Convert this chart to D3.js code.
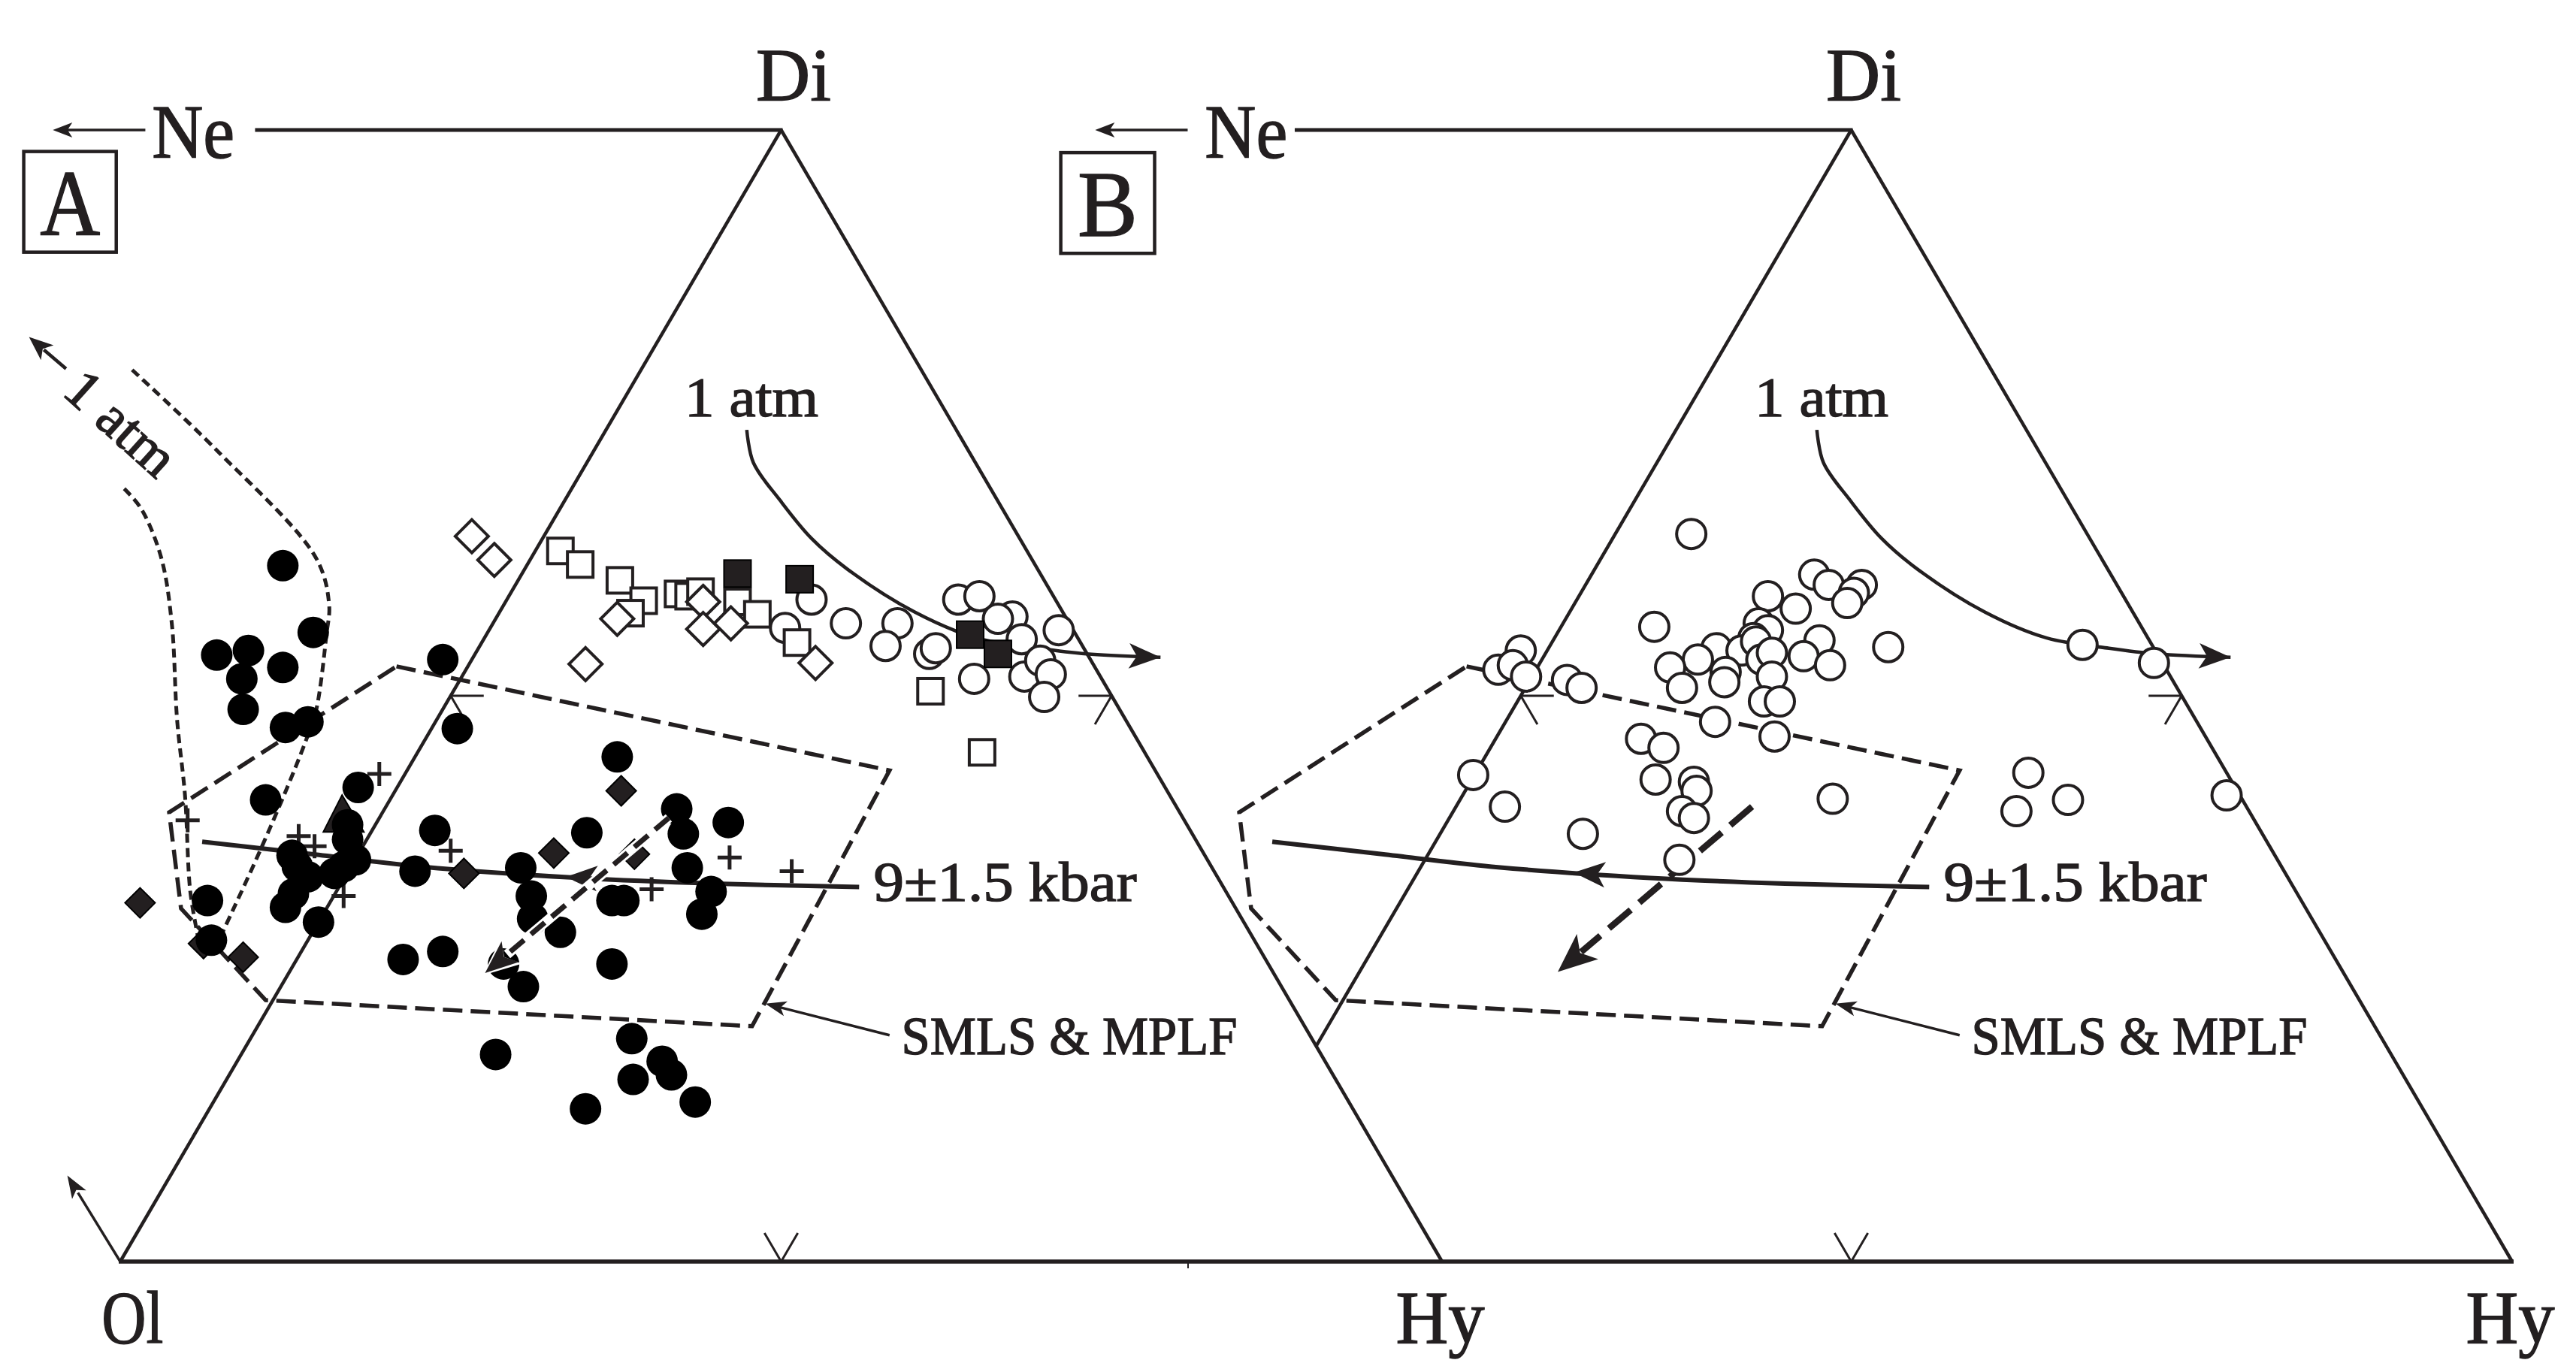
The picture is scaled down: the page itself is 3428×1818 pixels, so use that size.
<!DOCTYPE html>
<meta charset="utf-8">
<style>
body { margin: 0; background: #fff; }
svg { display: block; font-family: "Liberation Serif", "DejaVu Serif", serif; }
svg text { stroke: #231f20; stroke-width: 1.4; }
</style>
<body>
<script src="https://d3js.org/d3.v7.min.js"></script>
<script>

// diagram units: Ol = (0,0), Hy = (100,0), Di = (50,100)
// x runs along the Ol-Hy base, y is height towards Di

// panel A samples
var solidCirclesA = [
  [12.3,61.5],[14.6,55.6],[7.3,53.6],[9.7,54.0],[12.3,52.5],[9.2,51.5],[9.3,48.8],[12.5,47.2],[14.2,47.7],
  [24.4,53.2],[25.5,47.1],[11.0,40.8],[18.0,41.9],[17.2,38.6],[17.2,37.3],[17.8,35.5],[16.9,34.9],[16.2,34.3],
  [13.0,35.9],[13.4,34.9],[14.2,34.0],[13.1,32.5],[12.5,31.3],[15.0,30.0],[6.6,31.9],[6.9,28.4],
  [23.8,38.1],[22.3,34.5],[30.3,34.8],[31.1,32.3],[31.2,30.3],[33.3,29.1],[35.3,37.9],[37.6,44.6],
  [37.2,31.9],[38.1,31.9],[42.1,40.0],[42.6,37.8],[46.0,38.8],[42.9,34.8],[44.7,32.7],[44.0,30.7],
  [21.4,26.7],[24.4,27.4],[29.0,26.3],[30.5,24.3],[37.2,26.3],[28.4,18.3],[38.7,19.7],[41.0,17.7],
  [41.7,16.5],[38.8,16.1],[43.5,14.1],[35.2,13.5]
];
var solidDiamondsA = [[1.5,31.7],[6.3,28.1],[9.3,26.9],[26.0,34.3],[32.8,36.1],[37.9,41.6],[38.9,36.0]];
var trianglesA = [[16.9,39.1]];
var plusesA = [[19.6,43.1],[5.1,39.0],[13.5,37.6],[14.7,36.7],[25.0,36.3],[16.9,32.3],[40.2,32.9],[46.1,35.7],[50.8,34.5]];
var openDiamondsA = [[26.6,64.1],[28.3,62.0],[37.6,56.8],[35.2,52.8],[44.1,58.3],[44.1,55.9],[46.2,56.4],[52.6,52.9]];
var openSquaresA = [[33.3,62.8],[34.8,61.6],[37.8,60.2],[39.6,58.4],[38.6,57.3],[42.2,59.0],[43.0,58.8],[43.9,59.2],
  [46.7,58.3],[48.2,57.2],[51.2,54.7],[61.3,50.4],[65.2,45.0]];
var solidSquaresA = [[46.7,60.8],[51.4,60.3],[64.3,55.4],[66.4,53.7]];
var openCirclesA = [[52.3,58.5],[50.3,56.0],[54.9,56.4],[58.8,56.4],[57.9,54.4],[61.2,53.7],[61.7,54.2],[63.4,58.5],
  [65.0,58.8],[67.5,57.0],[66.4,56.8],[68.2,55.0],[71.0,55.8],[64.6,51.5],[68.4,51.7],[69.6,53.1],[70.4,51.9],[69.9,49.9]];

// panel B samples
var openCirclesB = [
  [37.9,64.3],[35.1,56.1],[25.0,54.0],[23.3,52.3],[24.4,52.7],[25.4,51.7],[28.5,51.4],[29.6,50.7],
  [47.2,60.7],[48.3,59.8],[50.8,59.8],[50.2,59.1],[49.7,58.2],[43.7,58.8],[45.8,57.7],[43.0,56.4],
  [43.7,55.8],[42.6,55.1],[47.6,54.9],[46.4,53.5],[48.4,52.7],[39.8,54.2],[38.4,53.2],[41.7,54.0],
  [42.8,54.8],[43.2,53.2],[44.0,53.8],[36.3,52.5],[37.2,50.7],[40.5,52.1],[40.4,51.2],[44.0,51.7],
  [43.4,49.5],[44.6,49.5],[39.7,47.7],[44.2,46.4],[52.8,54.3],[34.1,46.2],[35.8,45.4],[35.2,42.6],
  [38.1,42.4],[38.3,41.6],[37.2,39.8],[38.1,39.2],[21.4,43.0],[23.8,40.2],[29.7,37.8],[37.0,35.5],
  [48.6,40.9],[63.4,43.2],[62.5,39.8],[66.4,40.8],[67.5,54.5],[72.9,52.9],[78.4,41.2]
];

// cotectics and fields (same in both panels)
var atmCurve = [[47.4,73.5],[47.9,70.6],[49.9,67.3],[52.3,63.9],[55.0,61.2],[60.1,57.4],[64.8,55.1],[69.5,54.2],[73.1,53.7],[78.7,53.4]];
var kbarCurve = [[6.2,37.1],[14.5,36.0],[22.8,34.9],[34.8,33.9],[45.0,33.4],[55.9,33.1]];
var smlsField = [[20.9,52.6],[58.2,43.4],[47.8,20.8],[11.0,23.1],[4.6,31.2],[3.7,39.7]];
var smlsPointer = [[58.2,20.0],[48.8,22.8]];
var kbarHeadX = {A: 33.7, B: 29.0};
var dashedArrow = {A: [[41.5,39.2],[27.6,25.5]], B: [[42.5,40.2],[27.8,25.6]]};

// 1 atm field outlines in panel A (Ne side)
var atmOuterA = [[0.9,78.8],[7.3,71.7],[14.8,62.2],[15.8,58.1],[15.6,55.4],[14.8,48.6],[14.0,45.9],[12.6,41.8],[10.5,36.1],[8.5,31.0],[7.3,28.0]];
var atmInnerA = [[0.3,68.3],[1.6,66.5],[3.1,62.2],[3.9,56.4],[4.3,47.9],[4.9,41.2],[5.3,32.7],[5.9,28.6]];

var width = 3428, height = 1818;
var ink = "#231f20";

var y = d3.scaleLinear().domain([0, 100]).range([1679, 173]);
var panels = [
  {key: "A", x: d3.scaleLinear().domain([0, 100]).range([160, 1919]),
   neArrow: [1.9, -5.1], neText: 2.4, neLine: 10.2, box: [-7.3, -0.3, 98.1, 89.2]},
  {key: "B", x: d3.scaleLinear().domain([0, 100]).range([1584, 3343]),
   neArrow: [-0.2, -7.2], neText: 1.1, neLine: 7.9, box: [-9.8, -2.7, 98.0, 89.1]}
];

var svg = d3.select("body").append("svg")
    .attr("width", width)
    .attr("height", height);
svg.append("rect").attr("width", width).attr("height", height).attr("fill", "#fff");

function arrowHead(g, tip, from, len, half, fill) {
  var dx = tip[0] - from[0], dy = tip[1] - from[1], L = Math.hypot(dx, dy);
  var ux = dx / L, uy = dy / L;
  var bx = tip[0] - ux * len, by = tip[1] - uy * len;
  var nx = tip[0] - ux * len * 0.75, ny = tip[1] - uy * len * 0.75;
  g.append("path")
      .attr("d", "M" + tip + "L" + [bx - uy * half, by + ux * half] + "L" + [nx, ny] +
                 "L" + [bx + uy * half, by - ux * half] + "Z")
      .attr("fill", fill || ink);
}

function seg(g, p, q, w) {
  g.append("line")
      .attr("x1", p[0]).attr("y1", p[1]).attr("x2", q[0]).attr("y2", q[1])
      .attr("stroke", ink).attr("stroke-width", w);
}

// base line running under both panels
seg(svg, [panels[0].x(0) - 2, y(0)], [panels[1].x(100) + 2, y(0)], 5.5);
seg(svg, [panels[1].x(0) - 3, y(0)], [panels[1].x(0) - 3, y(0) + 9], 2);

panels.forEach(function(p) {
  var x = p.x;
  var g = svg.append("g");
  var pt = function(d) { return [x(d[0]), y(d[1])]; };
  var line = d3.line().x(function(d) { return x(d[0]); }).y(function(d) { return y(d[1]); });
  var smooth = d3.line().x(function(d) { return x(d[0]); }).y(function(d) { return y(d[1]); })
      .curve(d3.curveCatmullRom.alpha(0.5));

  var Ol = pt([0, 0]), Hy = pt([100, 0]), Di = pt([50, 100]);

  // triangle edges; panel B's Ol-Di edge stops at panel A's Di-Hy edge
  var leftStart = Ol;
  if (p.key === "B") {
    var a0 = [panels[0].x(100), y(0)], a1 = [panels[0].x(50), y(100)];
    var t = 0, best = 1e9;
    for (var s = 0; s <= 1; s += 0.0005) {
      var q = [Ol[0] + (Di[0] - Ol[0]) * s, Ol[1] + (Di[1] - Ol[1]) * s];
      var ax = a0[0] + (a1[0] - a0[0]) * (a0[1] - q[1]) / (a0[1] - a1[1]);
      if (Math.abs(ax - q[0]) < best) { best = Math.abs(ax - q[0]); t = s; }
    }
    leftStart = [Ol[0] + (Di[0] - Ol[0]) * t, Ol[1] + (Di[1] - Ol[1]) * t];
  }
  seg(g, leftStart, Di, 4.5);
  seg(g, Di, Hy, 4.5);
  seg(g, [x(p.neLine), y(100)], [Di[0] + 2, Di[1]], 5);

  // Ne direction arrow
  seg(g, [x(p.neArrow[0]), y(100)], [x(p.neArrow[1]) + 15, y(100)], 3.5);
  arrowHead(g, [x(p.neArrow[1]), y(100)], [x(p.neArrow[0]), y(100)], 26, 10);

  // midpoint ticks, each pointing inward parallel to the other two edges
  var L = 44;
  function unit(a, b) { var dx = b[0] - a[0], dy = b[1] - a[1], l = Math.hypot(dx, dy); return [dx / l, dy / l]; }
  var ticks = [
    {m: pt([50, 0]), dirs: [unit(Ol, Di), unit(Hy, Di)]},
    {m: pt([25, 50]), dirs: [unit(Ol, Hy), unit(Di, Hy)]},
    {m: pt([75, 50]), dirs: [unit(Hy, Ol), unit(Di, Ol)]}
  ];
  ticks.forEach(function(tk) {
    tk.dirs.forEach(function(u) { seg(g, tk.m, [tk.m[0] + u[0] * L, tk.m[1] + u[1] * L], 3); });
  });

  // SMLS & MPLF field
  g.append("path")
      .attr("d", line(smlsField) + "Z")
      .attr("fill", "none").attr("stroke", ink).attr("stroke-width", 5.5)
      .attr("stroke-dasharray", "26,11");
  var sp0 = pt(smlsPointer[0]), sp1 = pt(smlsPointer[1]);
  seg(g, sp0, [sp1[0] + (sp0[0] - sp1[0]) * 0.1, sp1[1] + (sp0[1] - sp1[1]) * 0.1], 3.5);
  arrowHead(g, sp1, sp0, 28, 10);

  // 1 atm cotectic
  g.append("path").attr("d", smooth(atmCurve))
      .attr("fill", "none").attr("stroke", ink).attr("stroke-width", 4.5);
  var ae = atmCurve.length - 1;
  arrowHead(g, pt(atmCurve[ae]), pt(atmCurve[ae - 1]), 42, 17);

  // 9 +/- 1.5 kbar cotectic
  g.append("path").attr("d", smooth(kbarCurve))
      .attr("fill", "none").attr("stroke", ink).attr("stroke-width", 6);
  var kInterp = d3.scaleLinear().domain(kbarCurve.map(function(d) { return d[0]; }))
      .range(kbarCurve.map(function(d) { return d[1]; }));
  var hx = kbarHeadX[p.key];
  arrowHead(g, pt([hx, kInterp(hx)]), pt([hx + 3, kInterp(hx + 3)]), 42, 17);

  // labels
  g.append("text").attr("x", x(48.1)).attr("y", 133)
      .attr("font-size", 100).attr("fill", ink).text("Di");
  g.append("text").attr("x", x(p.neText)).attr("y", 210)
      .attr("font-size", 101).attr("fill", ink)
      .attr("textLength", 110).attr("lengthAdjust", "spacingAndGlyphs").text("Ne");
  g.append("rect")
      .attr("x", x(p.box[0])).attr("y", y(p.box[2]))
      .attr("width", x(p.box[1]) - x(p.box[0])).attr("height", y(p.box[3]) - y(p.box[2]))
      .attr("fill", "none").attr("stroke", ink).attr("stroke-width", 4.5);
  g.append("text")
      .attr("x", (x(p.box[0]) + x(p.box[1])) / 2).attr("y", y(p.box[3]) - 23)
      .attr("text-anchor", "middle").attr("font-size", 124).attr("fill", ink)
      .attr("textLength", 80).attr("lengthAdjust", "spacingAndGlyphs").text(p.key);
  g.append("text").attr("x", x(42.7)).attr("y", y(74.7))
      .attr("font-size", 74).attr("fill", ink)
      .attr("textLength", 178).attr("lengthAdjust", "spacingAndGlyphs").text("1 atm");
  g.append("text").attr("x", x(57.0)).attr("y", y(31.9))
      .attr("font-size", 74).attr("fill", ink)
      .attr("textLength", 350).attr("lengthAdjust", "spacingAndGlyphs").text("9±1.5 kbar");
  g.append("text").attr("x", x(59.1)).attr("y", y(18.3))
      .attr("font-size", 72).attr("fill", ink)
      .attr("textLength", 447).attr("lengthAdjust", "spacingAndGlyphs").text("SMLS & MPLF");
  g.append("text").attr("x", x(96.5)).attr("y", 1787)
      .attr("font-size", 100).attr("fill", ink)
      .attr("textLength", 118).attr("lengthAdjust", "spacingAndGlyphs").text("Hy");

  if (p.key === "A") {
    g.append("text").attr("x", x(-1.4)).attr("y", 1787)
        .attr("font-size", 100).attr("fill", ink)
        .attr("textLength", 82).attr("lengthAdjust", "spacingAndGlyphs").text("Ol");

    // arrow out of the Ol corner
    var o0 = pt([0, 0]), o1 = pt([-4.0, 7.6]);
    seg(g, o0, [o1[0] + (o0[0] - o1[0]) * 0.2, o1[1] + (o0[1] - o1[1]) * 0.2], 3.5);
    arrowHead(g, o1, o0, 30, 11);

    // 1 atm field towards Ne
    g.append("path").attr("d", smooth(atmOuterA))
        .attr("fill", "none").attr("stroke", ink).attr("stroke-width", 5)
        .attr("stroke-dasharray", "12,7");
    g.append("path").attr("d", smooth(atmInnerA))
        .attr("fill", "none").attr("stroke", ink).attr("stroke-width", 5)
        .attr("stroke-dasharray", "12,7");
    var r0 = pt([-4.1, 78.9]), r1 = pt([-6.9, 81.7]);
    seg(g, r0, [r1[0] + (r0[0] - r1[0]) * 0.4, r1[1] + (r0[1] - r1[1]) * 0.4], 4.5);
    arrowHead(g, r1, r0, 32, 13);
    var rl = pt([-4.5, 76.7]);
    g.append("text")
        .attr("transform", "translate(" + rl + ") rotate(42)")
        .attr("font-size", 74).attr("fill", ink)
        .attr("textLength", 172).attr("lengthAdjust", "spacingAndGlyphs").text("1 atm");

    // open symbols
    g.selectAll(".oc").data(openCirclesA).enter().append("circle")
        .attr("cx", function(d) { return x(d[0]); }).attr("cy", function(d) { return y(d[1]); })
        .attr("r", 19.5).attr("fill", "#fff").attr("stroke", ink).attr("stroke-width", 4);
    g.selectAll(".os").data(openSquaresA).enter().append("rect")
        .attr("x", function(d) { return x(d[0]) - 17; }).attr("y", function(d) { return y(d[1]) - 17; })
        .attr("width", 34).attr("height", 34)
        .attr("fill", "#fff").attr("stroke", ink).attr("stroke-width", 4);
    g.selectAll(".od").data(openDiamondsA).enter().append("path")
        .attr("transform", function(d) { return "translate(" + pt(d) + ")"; })
        .attr("d", "M0,-22L22,0L0,22L-22,0Z")
        .attr("fill", "#fff").attr("stroke", ink).attr("stroke-width", 4);
    g.selectAll(".ss").data(solidSquaresA).enter().append("rect")
        .attr("x", function(d) { return x(d[0]) - 18; }).attr("y", function(d) { return y(d[1]) - 18; })
        .attr("width", 36).attr("height", 36)
        .attr("fill", ink).attr("stroke", "#000").attr("stroke-width", 2);

    // solid symbols
    g.selectAll(".pl").data(plusesA).enter().append("path")
        .attr("transform", function(d) { return "translate(" + pt(d) + ")"; })
        .attr("d", "M-16,0H16M0,-16V16")
        .attr("stroke", ink).attr("stroke-width", 5);
    g.selectAll(".sd").data(solidDiamondsA).enter().append("path")
        .attr("transform", function(d) { return "translate(" + pt(d) + ")"; })
        .attr("d", "M0,-20L20,0L0,20L-20,0Z")
        .attr("fill", ink).attr("stroke", "#000").attr("stroke-width", 2);
    g.selectAll(".st").data(trianglesA).enter().append("path")
        .attr("transform", function(d) { return "translate(" + pt(d) + ")"; })
        .attr("d", "M-2,-32L27,17L-27,17Z")
        .attr("fill", ink).attr("stroke", "#000").attr("stroke-width", 2);
    g.selectAll(".sc").data(solidCirclesA).enter().append("circle")
        .attr("cx", function(d) { return x(d[0]); }).attr("cy", function(d) { return y(d[1]); })
        .attr("r", 21).attr("fill", "#000");

    // dashed trend arrow drawn over the samples
    var da = dashedArrow.A.map(pt);
    var dEnd = [da[1][0] + (da[0][0] - da[1][0]) * 0.12, da[1][1] + (da[0][1] - da[1][1]) * 0.12];
    g.append("line").attr("x1", da[0][0]).attr("y1", da[0][1]).attr("x2", dEnd[0]).attr("y2", dEnd[1])
        .attr("stroke", "#fff").attr("stroke-width", 13);
    g.append("line").attr("x1", da[0][0]).attr("y1", da[0][1]).attr("x2", dEnd[0]).attr("y2", dEnd[1])
        .attr("stroke", ink).attr("stroke-width", 7).attr("stroke-dasharray", "24,12");
    arrowHead(g, [da[1][0] - 3, da[1][1] + 3], da[0], 50, 22, "#fff");
    arrowHead(g, da[1], da[0], 44, 18);
  } else {
    var db = dashedArrow.B.map(pt);
    var eEnd = [db[1][0] + (db[0][0] - db[1][0]) * 0.12, db[1][1] + (db[0][1] - db[1][1]) * 0.12];
    g.append("line").attr("x1", db[0][0]).attr("y1", db[0][1]).attr("x2", eEnd[0]).attr("y2", eEnd[1])
        .attr("stroke", ink).attr("stroke-width", 8.5).attr("stroke-dasharray", "38,15");
    arrowHead(g, db[1], db[0], 52, 22);

    g.selectAll(".oc").data(openCirclesB).enter().append("circle")
        .attr("cx", function(d) { return x(d[0]); }).attr("cy", function(d) { return y(d[1]); })
        .attr("r", 19.5).attr("fill", "#fff").attr("stroke", ink).attr("stroke-width", 4);
  }
});

</script>
</body>
